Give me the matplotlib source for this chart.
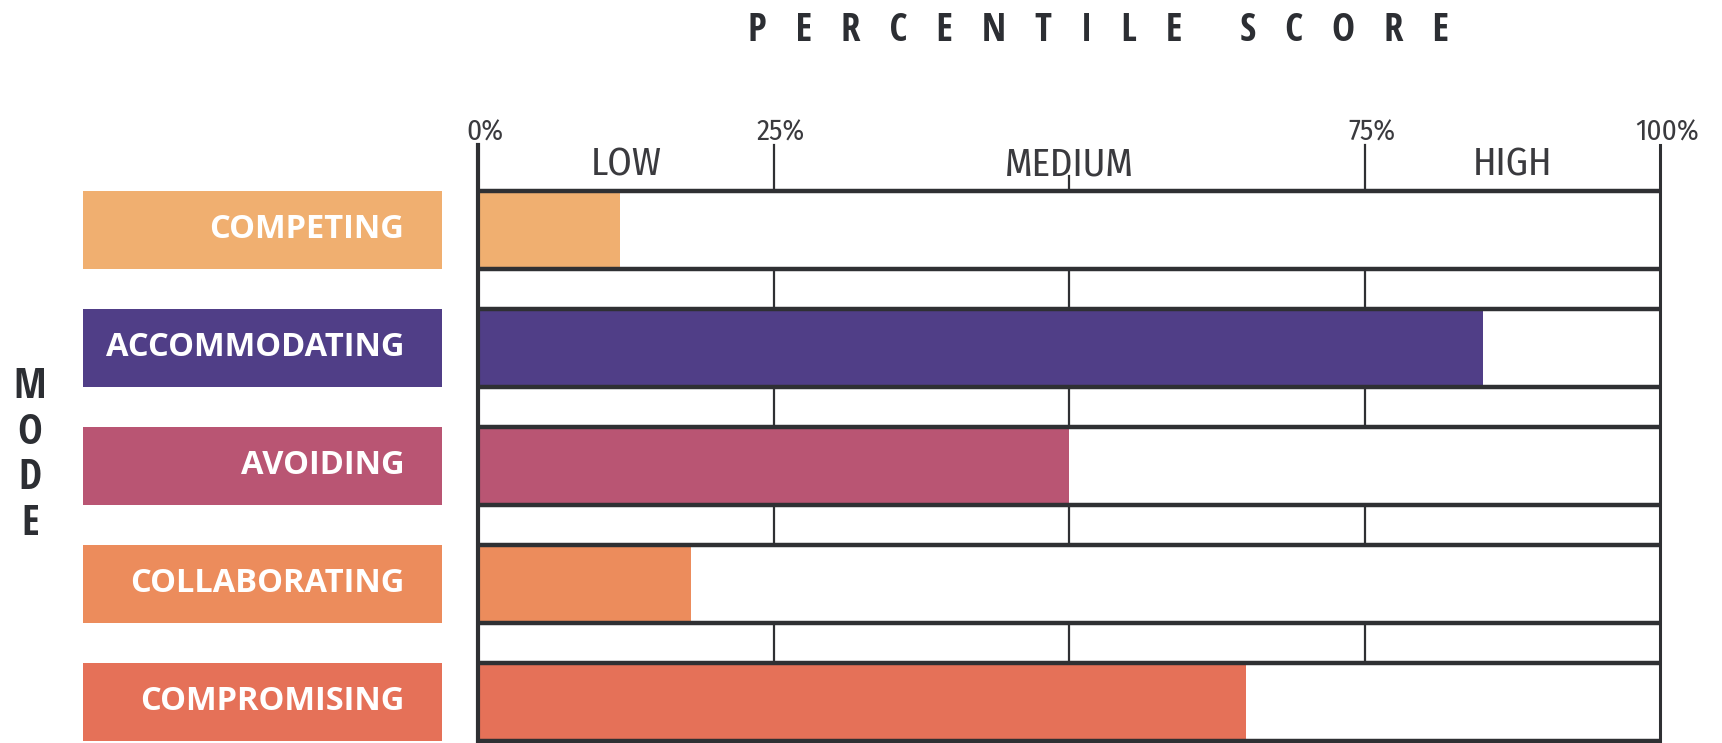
import numpy as np
import matplotlib
matplotlib.use("Agg")
from matplotlib import pyplot as plt

# data
modes = ["COMPETING", "ACCOMMODATING", "AVOIDING", "COLLABORATING", "COMPROMISING"]
scores = [12, 85, 50, 18, 65]
colors = ["#F0AF70", "#503E87", "#B95573", "#EC8C5C", "#E57158"]
tick_vals = [0, 25, 75, 100]
tick_labels = ["0%", "25%", "75%", "100%"]
band_pos = [12.5, 50, 87.5]
band_labels = ["LOW", "MEDIUM", "HIGH"]

COND = ["Open Sans Condensed", "DejaVu Sans"]
THIN = ["Fira Sans Condensed", "DejaVu Sans"]

W, H = 1722, 743
fig = plt.figure(figsize=(W / 100, H / 100), dpi=100)

# pixel layout
top_px = 191
pitch = 118
bar_h = 78 / pitch
y_top = -bar_h / 2
y_bot = y_top + (H - top_px) / pitch
line_c = "#2f3033"

ax = fig.add_axes([478 / W, 0, (1660 - 478) / W, (H - top_px) / H])
ax.set_xlim(0, 100)
ax.set_ylim(y_bot, y_top)
ax.axis("off")

ypos = np.arange(len(modes))
ax.barh(ypos, scores, height=bar_h, color=colors, zorder=1)

# grid: horizontal lines at the bar edges
for y in ypos:
    for yy in (y - bar_h / 2, y + bar_h / 2):
        ax.plot([0, 100], [yy, yy], color=line_c, lw=3.2, zorder=3,
                solid_capstyle="butt", clip_on=False)
# quarter lines inside the gap rows
for y in ypos[:-1]:
    for x in (25, 50, 75):
        ax.plot([x, x], [y + bar_h / 2, y + 1 - bar_h / 2], color=line_c,
                lw=1.6, zorder=3)
# outer verticals and header ticks
ax.plot([0, 0], [y_bot, y_top - 0.39], color=line_c, lw=3, zorder=4, clip_on=False)
ax.plot([100, 100], [y_bot, y_top - 0.39], color=line_c, lw=2.2, zorder=4, clip_on=False)
for x in (25, 75):
    ax.plot([x, x], [y_top, y_top - 0.39], color=line_c, lw=1.6, clip_on=False)
ax.plot([50, 50], [y_top, y_top - 0.13], color=line_c, lw=1.6, clip_on=False)

for v, lab in zip(tick_vals, tick_labels):
    ax.text(v + 0.6, y_top - 0.50, lab, ha="center", va="center", fontsize=21,
            color="#3a3a3e", family=THIN, clip_on=False)
for v, lab in zip(band_pos, band_labels):
    ax.text(v, y_top - 0.22, lab, ha="center", va="center", fontsize=28,
            color="#3a3a3e", family=THIN, clip_on=False)

# left label boxes
axl = fig.add_axes([83 / W, 0, (442 - 83) / W, (H - top_px) / H])
axl.set_xlim(0, 1)
axl.set_ylim(y_bot, y_top)
axl.axis("off")
axl.barh(ypos, [1] * len(modes), height=bar_h, color=colors)
for y, m in zip(ypos, modes):
    axl.text(0.895, y, m, ha="right", va="center", fontsize=23.5,
             fontweight="bold", color="white", family="Open Sans")

title = "   ".join("PERCENTILE") + "      " + "   ".join("SCORE")
fig.text(1098 / W, 1 - 31 / H, title,
         ha="center", va="center", fontsize=28, fontweight="bold",
         color="#2c2e33", family=COND)
fig.text(30 / W, 1 - 456 / H, "M\nO\nD\nE", ha="center", va="center",
         fontsize=30, fontweight="bold", color="#2c2e33", linespacing=1.16,
         family=COND)

fig.savefig("out.png", dpi=100)
